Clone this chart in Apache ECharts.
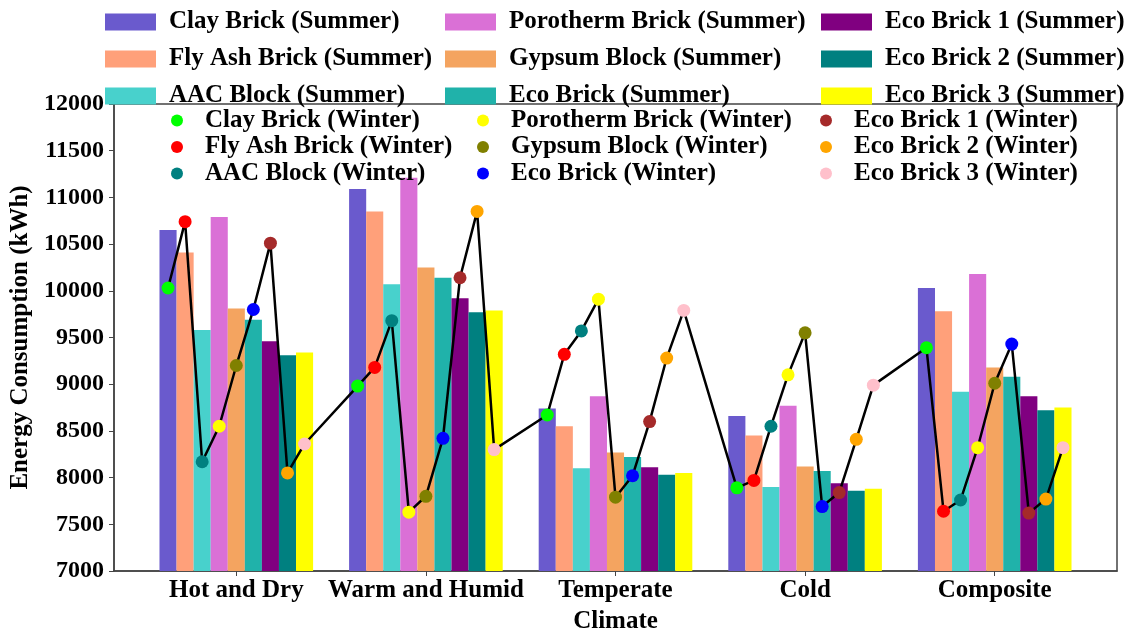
<!DOCTYPE html>
<html>
<head>
<meta charset="utf-8">
<script src="https://cdn.jsdelivr.net/npm/echarts@6/dist/echarts.min.js"></script>
<style>
html,body{margin:0;padding:0;background:#fff;}
#chart{width:1130px;height:632px;}
</style>
</head>
<body>
<div id="chart"></div>
<script>
const climates = ['Hot and Dry', 'Warm and Humid', 'Temperate', 'Cold', 'Composite'];
const materials = ['Clay Brick', 'Fly Ash Brick', 'AAC Block', 'Porotherm Brick', 'Gypsum Block', 'Eco Brick', 'Eco Brick 1', 'Eco Brick 2', 'Eco Brick 3'];

// Summer energy consumption (kWh), one array per material, across climates
const summerClay      = [10650, 11090, 8740, 8660, 10030];
const summerFlyAsh    = [10410, 10850, 8550, 8450, 9780];
const summerAAC       = [9580, 10070, 8100, 7900, 8920];
const summerPorotherm = [10790, 11210, 8870, 8770, 10180];
const summerGypsum    = [9810, 10250, 8270, 8120, 9180];
const summerEco       = [9690, 10140, 8220, 8070, 9080];
const summerEco1      = [9460, 9920, 8110, 7940, 8870];
const summerEco2      = [9310, 9770, 8030, 7860, 8720];
const summerEco3      = [9340, 9790, 8050, 7880, 8750];

// Winter energy consumption (kWh)
const winterClay      = [10030, 8980, 8670, 7890, 9390];
const winterFlyAsh    = [10740, 9180, 9320, 7970, 7640];
const winterAAC       = [8170, 9680, 9570, 8550, 7760];
const winterPorotherm = [8550, 7630, 9910, 9100, 8320];
const winterGypsum    = [9200, 7800, 7790, 9550, 9010];
const winterEco       = [9800, 8420, 8020, 7690, 9430];
const winterEco1      = [10510, 10140, 8600, 7840, 7620];
const winterEco2      = [8050, 10850, 9280, 8410, 7770];
const winterEco3      = [8360, 8300, 9790, 8990, 8320];

const summerData = [summerClay, summerFlyAsh, summerAAC, summerPorotherm, summerGypsum, summerEco, summerEco1, summerEco2, summerEco3];
const winterData = [winterClay, winterFlyAsh, winterAAC, winterPorotherm, winterGypsum, winterEco, winterEco1, winterEco2, winterEco3];

const summerColors = ['#6A5ACD', '#FFA07A', '#48D1CC', '#DA70D6', '#F4A460', '#20B2AA', '#800080', '#008080', '#FFFF00'];
const winterColors = ['#00FF00', '#FF0000', '#008080', '#FFFF00', '#808000', '#0000FF', '#A52A2A', '#FFA500', '#FFC0CB'];

const BAR_W = 0.09;
const offset = j => (j - 4) * BAR_W;
const FONT = 'Liberation Serif';

const summerNames = materials.map(m => m + ' (Summer)');
const winterNames = materials.map(m => m + ' (Winter)');

const series = [];
summerData.forEach((arr, j) => {
  series.push({
    name: summerNames[j], type: 'bar',
    data: arr.map((v, i) => [i + offset(j), v]),
    barWidth: 17.1, barGap: '-100%',
    itemStyle: { color: summerColors[j] },
    z: 2
  });
});
const linePts = [];
climates.forEach((c, i) => {
  winterData.forEach((arr, j) => linePts.push([i + offset(j), arr[i]]));
});
series.push({
  name: 'winterLine', type: 'line', data: linePts,
  showSymbol: false, symbol: 'none',
  lineStyle: { color: '#000', width: 2.5 }, z: 3, silent: true
});
winterData.forEach((arr, j) => {
  series.push({
    name: winterNames[j], type: 'scatter',
    data: arr.map((v, i) => [i + offset(j), v]),
    symbolSize: 13,
    itemStyle: { color: winterColors[j], opacity: 1 },
    z: 4
  });
});

const textBase = { fontFamily: FONT, fontWeight: 'bold', fontSize: 25, color: '#000' };

function summerLegend(left, names) {
  return {
    left: left, top: 9.5, orient: 'vertical', padding: 0,
    itemWidth: 51, itemHeight: 17, itemGap: 12, icon: 'rect',
    data: names,
    textStyle: Object.assign({}, textBase, { lineHeight: 20, padding: [0, 0, 0, 8] })
  };
}
function winterLegend(left, names) {
  return {
    left: left, top: 108, orient: 'vertical', padding: 0,
    itemWidth: 12, itemHeight: 12, itemGap: 1.5, icon: 'circle',
    data: names,
    textStyle: Object.assign({}, textBase, { lineHeight: 20, padding: [0, 0, 0, 17] })
  };
}

const option = {
  animation: false,
  backgroundColor: '#fff',
  grid: { left: 114, right: 13, top: 104, bottom: 61, show: true, borderColor: '#444', borderWidth: 1.5, backgroundColor: 'transparent', containLabel: false, outerBoundsMode: 'none' },
  legend: [
    summerLegend(105, summerNames.slice(0, 3)),
    summerLegend(445, summerNames.slice(3, 6)),
    summerLegend(821, summerNames.slice(6, 9)),
    winterLegend(171, winterNames.slice(0, 3)),
    winterLegend(477, winterNames.slice(3, 6)),
    winterLegend(820, winterNames.slice(6, 9))
  ],
  xAxis: {
    type: 'value', min: -0.645, max: 4.645,
    name: 'Climate', nameLocation: 'middle', nameGap: 38,
    nameTextStyle: textBase,
    splitLine: { show: false },
    axisLine: { show: true, onZero: false, lineStyle: { color: '#444', width: 1.5 } },
    axisTick: { show: true, length: 5, customValues: [0, 1, 2, 3, 4], lineStyle: { color: '#444' } },
    axisLabel: {
      customValues: [0, 1, 2, 3, 4], margin: 7,
      formatter: v => climates[Math.round(v)] || '',
      fontFamily: FONT, fontWeight: 'bold', fontSize: 25, color: '#000'
    }
  },
  yAxis: {
    type: 'value', min: 7000, max: 12000, interval: 500,
    name: 'Energy Consumption (kWh)', nameLocation: 'middle', nameGap: 66,
    nameTextStyle: textBase,
    splitLine: { show: false },
    axisLine: { show: true, onZero: false, lineStyle: { color: '#444', width: 1.5 } },
    axisTick: { show: true, length: 5, lineStyle: { color: '#444' } },
    axisLabel: { margin: 10, formatter: v => String(v), fontFamily: FONT, fontWeight: 'bold', fontSize: 24, color: '#000' }
  },
  series: series
};

const chart = echarts.init(document.getElementById('chart'), null, { renderer: 'canvas' });
chart.setOption(option);
</script>
</body>
</html>
